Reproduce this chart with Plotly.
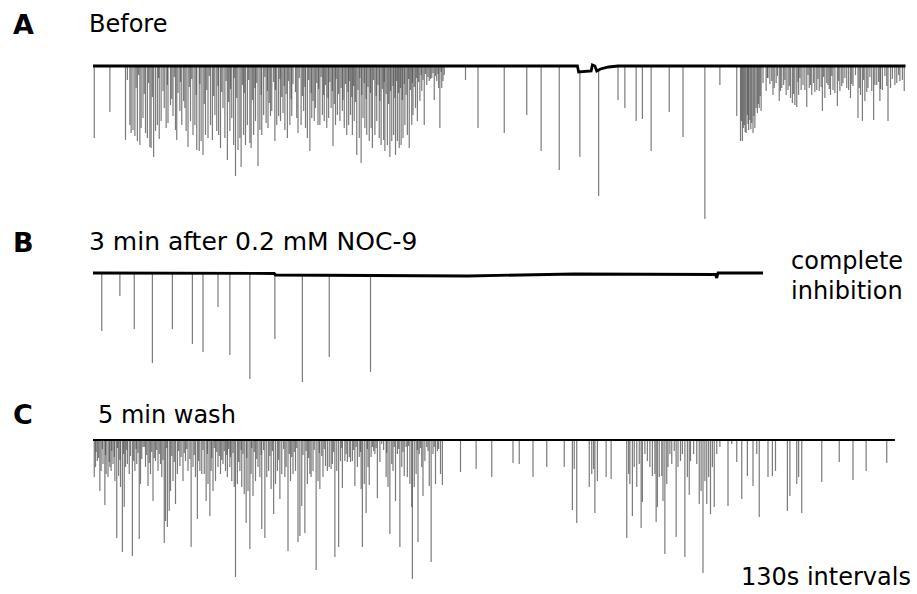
import numpy as np
import plotly.graph_objects as go

W, H = 917, 594

# ---------------- Panel A: "Before" ----------------
# event times (s) and trough level (below the 0 baseline, arbitrary units)
A_t = [0.2, 2.7, 5.2, 5.9, 6.1, 6.4, 6.7, 7.1, 7.5, 7.7, 8.0, 8.4, 8.7, 9.1, 9.3, 9.7,
       10.0, 10.3, 10.6, 10.9, 11.4, 11.7, 12.0, 12.4, 12.8, 13.2, 13.4, 13.9, 14.2,
       14.7, 14.9, 15.2, 15.6, 16.0, 16.3, 16.6, 17.0, 17.3, 17.6, 18.0, 18.4, 18.8,
       19.1, 19.5, 19.8, 20.1, 20.4, 20.8, 21.1, 21.5, 21.9, 22.2, 22.5, 22.8, 23.2,
       23.5, 23.7, 24.1, 24.4, 24.7, 25.1, 25.3, 25.7, 26.0, 26.4, 26.7, 27.0, 27.3,
       27.7, 28.0, 28.4, 28.6, 29.1, 29.4, 29.7, 30.0, 30.4, 30.7, 31.1, 31.5, 31.8,
       32.6, 32.8, 33.3, 33.7, 34.0, 34.3, 34.7, 35.0, 35.4, 35.6, 36.0, 36.3, 36.7,
       37.0, 37.4, 37.7, 38.1, 38.4, 38.8, 39.1, 39.5, 39.9, 40.2, 40.6, 40.9, 41.2,
       41.5, 41.8, 42.2, 42.6, 42.9, 43.2, 43.5, 43.8, 44.2, 44.5, 44.7, 45.1, 45.4,
       45.8, 46.1, 46.5, 46.7, 47.1, 47.5, 47.8, 48.1, 48.4, 48.7, 49.0, 49.3, 49.6,
       49.9, 50.3, 50.6, 51.0, 51.2, 51.6, 51.9, 52.3, 52.6, 53.0, 53.4, 53.8, 54.2,
       54.6, 55.0, 55.3, 55.5, 55.8, 56.0, 59.6, 61.6,
       65.8, 69.4, 71.7, 74.6, 77.9, 80.9, 84.0, 85.1, 86.9, 87.9, 89.3, 92.2, 94.4,
       97.9, 100.3, 103.0,
       103.6, 103.9, 104.2, 104.5, 104.7, 104.9, 105.1, 105.4, 105.6, 105.9, 106.1,
       106.3, 106.6, 106.9, 107.2, 107.7,
       108.0, 108.6, 108.8, 109.3, 109.8, 110.2, 110.5, 110.9, 111.2, 111.6, 111.9,
       112.3, 112.6, 112.9, 113.3, 113.6, 114.2, 114.6, 115.0, 115.3, 115.8, 116.2,
       116.7, 117.1, 117.6, 118.0, 118.4, 119.1, 119.5, 120.0, 120.6, 121.2, 121.6,
       122.4, 122.8, 123.1, 123.5, 124.0, 124.6, 124.9, 125.4, 125.9, 126.3, 127.2,
       127.6, 128.3, 129.1, 129.8]
A_d = [72, 46, 74, 59, 67, 64, 70, 75, 79, 62, 52, 67, 72, 81, 82, 91,
       65, 59, 73, 55, 42, 62, 57, 39, 50, 64, 74, 45, 59,
       42, 65, 81, 55, 69, 59, 84, 85, 75, 89, 69, 72, 59,
       74, 49, 65, 69, 82, 42, 72, 94, 65, 52, 79, 110, 84,
       72, 101, 69, 79, 59, 77, 82, 69, 55, 100, 64, 69, 49,
       57, 62, 50, 45, 75, 59, 50, 55, 47, 64, 72, 59, 50,
       52, 67, 59, 45, 62, 72, 85, 52, 55, 42, 59, 59, 49,
       55, 62, 52, 42, 80, 59, 49, 55, 45, 62, 69, 59, 49,
       69, 55, 89, 72, 97, 52, 62, 69, 75, 62, 82, 69, 55,
       72, 79, 74, 85, 79, 91, 75, 69, 89, 75, 82, 79, 72,
       59, 69, 82, 59, 49, 42, 55, 35, 25, 59, 19, 15, 12,
       34, 15, 22, 62, 22, 15, 14, 62,
       67, 49, 85, 104, 91, 130, 34, 42, 55, 53, 85, 46, 71,
       153, 19, 50,
       75, 75, 59, 67, 49, 64, 54, 57, 67, 62, 42,
       47, 42, 45, 17, 25,
       12, 15, 29, 17, 35, 22, 19, 29, 24, 32, 37,
       39, 41, 29, 24, 19, 41, 22, 29, 17, 24, 25,
       45, 32, 19, 29, 24, 40, 25, 17, 22, 32, 20,
       52, 29, 55, 35, 22, 25, 54, 19, 35, 24, 55,
       22, 19, 15, 25]
# smaller events filling the bursts
A_small_t = [5.5, 6.9, 7.3, 8.2, 8.9, 9.5, 10.5, 11.2, 11.9, 12.6,
             13.0, 13.6, 14.0, 14.5, 15.4, 15.8, 16.5, 17.1, 17.8, 18.2,
             18.6, 19.3, 20.0, 20.6, 21.3, 21.7, 22.0, 22.6, 23.0, 23.9,
             24.2, 24.9, 25.5, 25.9, 26.2, 26.9, 27.5, 27.9, 28.2, 28.9,
             29.2, 29.9, 30.2, 30.6, 30.9, 31.3, 31.7, 32.0, 32.4, 33.0,
             33.5, 33.9, 34.5, 34.9, 35.2, 35.8, 36.1, 36.5, 36.9, 37.2,
             37.6, 37.9, 38.3, 38.6, 38.9, 39.3, 39.7, 40.0, 40.4, 40.8,
             41.0, 41.4, 41.7, 42.0, 42.4, 42.7, 43.0, 43.4, 43.7, 44.0,
             44.4, 44.9, 45.3, 45.6, 45.9, 46.3, 46.6, 46.9, 47.3, 47.6,
             48.0, 48.3, 48.6, 48.9, 49.2, 49.5, 49.8, 50.1, 50.5, 50.8,
             51.1, 51.4, 51.8, 52.1, 52.5, 52.8, 53.2, 53.6, 54.0, 54.4,
             54.8, 55.2, 55.7, 56.2,
             103.75, 104.05, 104.35, 104.8, 105.25, 105.75, 106.45, 106.75,
             107.9, 108.3, 109.0, 109.5, 110.0, 110.7, 111.4, 112.1, 112.8, 113.1,
             113.9, 114.4, 114.8, 115.5, 116.0, 116.5, 116.9, 117.4, 117.8, 118.2,
             118.7, 119.3, 119.8, 120.3, 120.9, 121.4, 122.0, 122.6, 123.3, 123.8,
             124.3, 125.1, 125.7, 126.0, 126.7, 127.0, 127.9, 128.6, 128.9, 129.5]
A_small_d = [14, 22, 9, 28, 17, 31, 12, 25, 19, 33,
             11, 27, 16, 35, 21, 13, 29, 18, 38, 24,
             10, 30, 20, 26, 15, 36, 23, 12, 32, 19,
             27, 14, 34, 22, 17, 29, 11, 25, 37, 16,
             24, 13, 31, 20, 28, 15, 33, 18, 26, 12,
             30, 21, 14, 27, 35, 17, 23, 11, 29, 19,
             32, 16, 25, 38, 13, 28, 22, 34, 18, 26,
             15, 31, 20, 36, 24, 12, 29, 17, 33, 21,
             27, 14, 30, 19, 35, 23, 16, 28, 38, 25,
             20, 32, 15, 27, 22, 34, 18, 29, 13, 24,
             17, 21, 12, 16, 9, 14, 8, 11, 13, 7,
             10, 8, 6, 9,
             55, 62, 66, 58, 63, 50, 38, 30,
             12, 18, 22, 10, 25, 14, 20, 28, 16, 12,
             24, 9, 19, 26, 13, 21, 11, 17, 23, 10,
             27, 15, 20, 12, 24, 18, 9, 22, 14, 26,
             11, 19, 16, 23, 10, 20, 13, 17, 9, 14]
A_base_t = [0, 77.5, 77.7, 79.7, 79.9, 80.3, 80.6, 81.2, 82.5, 84.0, 130.0]
A_base_v = [0, 0, -6, -5, 1, 0, -5, -3, -1, 0, 0]

# ---------------- Panel B: 3 min after 0.2 mM NOC-9 ----------------
B_t = [1.4, 4.3, 6.6, 9.5, 12.7, 15.9, 17.6, 20.0, 21.9, 25.1, 29.1, 33.5, 37.8, 44.4]
B_d = [58, 23, 56, 90, 56, 71, 79, 34, 82, 106, 66, 109, 84, 99]
B_base_t = [0, 29.0, 29.2, 44.3, 44.5, 60.0, 77.0, 95.0, 99.6, 99.8, 100.0, 107.2]
B_base_v = [0, -0.5, -2, -2.5, -3, -3, -1, -1, -1.5, -5, 0, 0]

# ---------------- Panel C: 5 min wash ----------------
C_t = [0.2, 0.4, 0.7, 1.1, 1.3, 1.6, 1.9, 2.1, 2.4, 2.7, 2.9, 3.2, 3.5, 3.8, 4.1, 4.4,
       4.7, 5.0, 5.2, 5.5, 5.8, 6.3, 6.7, 7.0, 7.4, 7.6, 8.0, 8.4, 8.8, 9.2, 9.6,
       10.0, 10.4, 10.8, 11.0, 11.4, 11.6, 11.9, 12.2, 12.4, 12.8, 13.2, 13.5, 13.9,
       14.4, 14.8, 15.2, 15.7, 16.0, 16.4, 16.7, 17.1, 17.4, 17.8, 18.1, 18.4, 18.7,
       18.9, 19.2, 19.6, 20.0, 20.4, 20.8, 21.2, 21.5, 21.9, 22.2, 22.6, 22.8, 23.1,
       23.5, 23.8, 24.2, 24.5, 24.8, 25.1, 25.3, 25.6, 26.0, 26.4, 26.7, 27.0, 27.5,
       27.8, 28.1, 28.5, 28.9, 29.2, 29.5, 29.9, 30.2, 30.7, 30.9, 31.2, 31.6, 32.0,
       32.4, 32.8, 33.1, 33.4, 33.9, 34.3, 34.7, 34.9, 35.2, 35.7, 36.0, 36.3, 36.8,
       37.2, 37.5, 37.8,
       38.1, 38.3, 38.7, 39.0, 39.3, 39.6, 39.9, 40.3, 40.7, 41.0, 41.2, 41.5, 41.9,
       42.3, 42.6, 42.9, 43.1, 43.4, 43.7, 44.0, 44.2, 44.5, 44.7, 45.1, 45.5, 45.9,
       46.2, 46.9, 47.2, 47.5, 47.8, 48.0, 48.4, 48.7, 49.1, 49.4, 49.8, 50.1, 50.3,
       50.7, 51.0, 51.1, 51.4, 51.7, 52.0, 52.2, 52.6, 52.8, 53.1, 53.4, 53.8, 54.1,
       54.4, 54.8, 55.1, 55.6, 55.9, 58.8, 61.3, 63.8, 67.2, 68.2, 70.4, 72.6, 75.4,
       76.7, 77.0, 77.4, 79.4, 79.8, 80.1, 80.3, 80.7,
       82.1, 82.9, 85.4, 85.7, 85.9, 86.3, 86.6, 87.0, 87.4, 87.7, 87.9, 88.3, 88.7,
       89.1, 89.5, 89.9, 90.1, 90.3, 90.6, 91.0, 91.2, 91.5, 91.8, 92.0, 92.3, 92.6,
       93.0, 93.3, 93.6, 94.0, 94.3, 94.7, 95.1, 95.4, 95.6, 96.1, 96.6, 97.0, 97.3,
       97.6, 97.9, 98.2, 98.5, 98.8, 99.1, 99.4, 99.8, 100.3, 101.6, 102.2, 103.0,
       103.8, 104.7, 105.6, 106.2, 106.6, 108.0, 108.7, 109.2, 111.1, 111.5, 112.6,
       112.9, 113.4, 116.6, 119.4, 121.6, 123.7, 127.0]
C_d = [37, 27, 21, 51, 31, 24, 65, 34, 37, 27, 31, 24, 41, 98, 36, 47,
       112, 67, 27, 24, 34, 116, 31, 24, 99, 44, 7, 27, 46, 34, 61,
       21, 31, 24, 37, 103, 81, 87, 71, 51, 41, 64, 34, 26,
       41, 21, 31, 107, 27, 37, 79, 31, 34, 34, 61, 44, 76,
       31, 51, 41, 27, 34, 24, 31, 37, 27, 41, 47, 137, 44,
       31, 47, 54, 83, 51, 109, 34, 56, 41, 27, 37, 89, 98,
       37, 31, 49, 74, 44, 31, 59, 34, 37, 27, 111, 41, 34,
       31, 102, 96, 66, 93, 44, 34, 37, 31, 130, 41, 49, 37,
       26, 31, 27,
       29, 24, 117, 31, 107, 21, 48, 21, 22, 17, 22, 21, 46,
       27, 17, 49, 107, 44, 73, 27, 45, 17, 7, 14, 58, 22,
       4, 37, 47, 94, 24, 31, 61, 14, 107, 27, 36, 7, 37,
       44, 67, 139, 47, 34, 102, 14, 27, 56, 21, 7, 46, 122,
       14, 44, 11, 34, 45, 32, 29, 37, 23, 24, 37, 27, 27,
       70, 29, 83, 47, 34, 29, 73, 41,
       37, 39, 98, 34, 44, 76, 27, 47, 24, 88, 62, 14, 21,
       27, 36, 34, 82, 67, 37, 36, 61, 114, 44, 27, 14, 24,
       11, 97, 27, 21, 14, 117, 37, 55, 21, 14, 24, 64, 51,
       133, 41, 64, 37, 74, 27, 67, 14, 7, 66, 4, 22,
       59, 36, 46, 14, 77, 37, 36, 31, 71, 56, 44,
       37, 73, 42, 22, 40, 31, 23]
C_small_t = [0.5, 0.9, 1.5, 2.0, 2.6, 3.0, 3.4, 3.9, 4.3, 4.9,
             5.4, 6.0, 6.5, 6.9, 7.2, 7.8, 8.2, 8.6, 9.0, 9.4,
             9.8, 10.2, 10.6, 11.2, 11.8, 12.6, 13.0, 13.7, 14.1, 14.6,
             15.0, 15.5, 16.2, 16.9, 17.6, 18.3, 19.0, 19.4, 19.8, 20.2,
             20.6, 21.0, 21.4, 21.7, 22.0, 22.4, 23.3, 23.7, 24.0, 24.6,
             25.4, 25.8, 26.2, 26.9, 27.3, 28.3, 28.7, 29.7, 30.5, 31.4,
             31.8, 32.2, 32.6, 33.6, 34.1, 34.5, 35.4, 36.2, 36.6, 37.0,
             38.5, 39.8, 40.5, 41.7, 42.1, 42.8, 43.9, 44.9, 45.3, 46.5,
             47.0, 48.2, 48.9, 49.6, 50.5, 51.9, 52.4, 53.6, 54.6, 55.3]
C_small_d = [12, 18, 9, 15, 22, 11, 17, 8, 20, 14,
             10, 16, 21, 9, 13, 19, 7, 15, 23, 12,
             18, 10, 14, 20, 8, 16, 22, 11, 17, 13,
             9, 19, 15, 21, 10, 14, 18, 8, 12, 16,
             20, 11, 15, 9, 17, 13, 22, 10, 14, 18,
             8, 12, 19, 15, 10, 16, 11, 20, 9, 14,
             17, 12, 8, 15, 11, 18, 10, 13, 16, 9,
             12, 8, 14, 10, 7, 12, 9, 11, 8, 10,
             13, 7, 9, 12, 6, 10, 8, 11, 7, 9]
C_base_t = [0, 128.3]
C_base_v = [0, 0]

# ---------------- labels ----------------
panel_letters = ["A", "B", "C"]
panel_titles = ["Before", "3 min after 0.2 mM NOC-9", "5 min wash"]
side_note_B = ["complete", "inhibition"]
scale_note = "130s intervals"


def event_path(ts, ds, bt, bv):
    xs, ys = [], []
    for t, d in zip(ts, ds):
        b = float(np.interp(t, bt, bv))
        xs += [t, t, None]
        ys += [b, -d, None]
    return xs, ys


EV_COLOR = "rgba(70,70,70,0.72)"
fig = go.Figure()

panels = [
    ([A_t, A_small_t], [A_d, A_small_d], A_base_t, A_base_v, "x", "y", 2.8),
    ([B_t], [B_d], B_base_t, B_base_v, "x2", "y2", 2.8),
    ([C_t, C_small_t], [C_d, C_small_d], C_base_t, C_base_v, "x3", "y3", 2.0),
]
for tl, dl, bt, bv, xa, ya, bw in panels:
    for ts, ds in zip(tl, dl):
        ex, ey = event_path(ts, ds, bt, bv)
        fig.add_trace(go.Scatter(x=ex, y=ey, mode="lines", xaxis=xa, yaxis=ya,
                                 line=dict(color=EV_COLOR, width=1.2),
                                 hoverinfo="skip", showlegend=False))
    fig.add_trace(go.Scatter(x=bt, y=bv, mode="lines", xaxis=xa, yaxis=ya,
                             line=dict(color="black", width=bw),
                             hoverinfo="skip", showlegend=False))


def py(p):
    return 1 - p / H


xdom = [93 / W, 908 / W]
xr = [0, 130.4]
ax_common = dict(visible=False, showgrid=False, zeroline=False, fixedrange=True)
fig.update_layout(
    width=W, height=H,
    margin=dict(l=0, r=0, t=0, b=0),
    paper_bgcolor="white", plot_bgcolor="rgba(0,0,0,0)",
    showlegend=False,
    xaxis=dict(domain=xdom, range=xr, anchor="y", **ax_common),
    xaxis2=dict(domain=xdom, range=xr, anchor="y2", **ax_common),
    xaxis3=dict(domain=xdom, range=xr, anchor="y3", **ax_common),
    yaxis=dict(domain=[py(225), py(55)], range=[-159, 11], anchor="x", **ax_common),
    yaxis2=dict(domain=[py(392), py(262)], range=[-119, 11], anchor="x2", **ax_common),
    yaxis3=dict(domain=[py(581), py(429)], range=[-141, 11], anchor="x3", **ax_common),
)

FONT = "DejaVu Sans"
ann = []
letter_y = [24, 242, 414]
title_pos = [(87, 24, 24), (87, 241, 25), (96, 415, 24)]
for L, ly, T, (tx, ty, ts_) in zip(panel_letters, letter_y, panel_titles, title_pos):
    ann.append(dict(text="<b>%s</b>" % L, x=11 / W, y=py(ly), xref="paper", yref="paper",
                    xanchor="left", yanchor="middle", showarrow=False,
                    font=dict(family=FONT, size=27, color="black")))
    ann.append(dict(text=T, x=tx / W, y=py(ty), xref="paper", yref="paper",
                    xanchor="left", yanchor="middle", showarrow=False,
                    font=dict(family=FONT, size=ts_, color="black")))
for txt, yy in zip(side_note_B, [261, 291]):
    ann.append(dict(text=txt, x=789 / W, y=py(yy), xref="paper", yref="paper",
                    xanchor="left", yanchor="middle", showarrow=False,
                    font=dict(family=FONT, size=24, color="black")))
ann.append(dict(text=scale_note, x=739 / W, y=py(577), xref="paper", yref="paper",
                xanchor="left", yanchor="middle", showarrow=False,
                font=dict(family=FONT, size=24, color="black")))
fig.update_layout(annotations=ann)

fig.write_html("out.html")
